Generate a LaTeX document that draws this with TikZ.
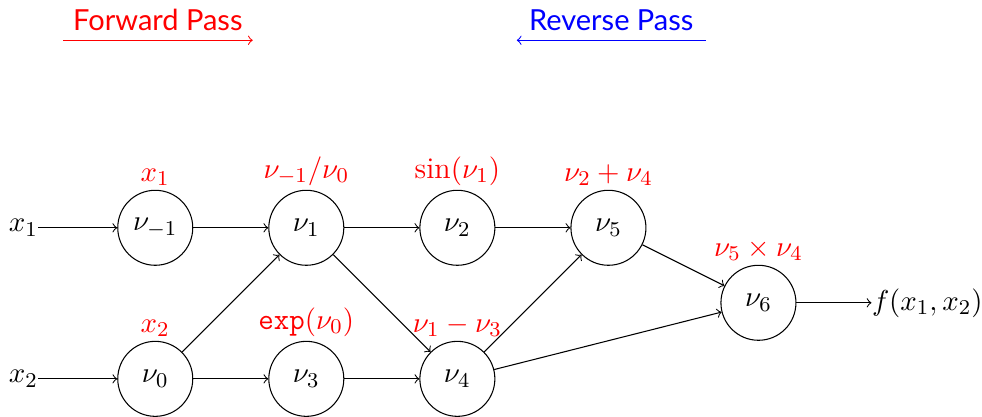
\documentclass[tikz,border=0pt]{standalone}
\usepackage{amsmath,amssymb}
\usepackage{fontspec}
\setsansfont{Lato}
\usepackage{tikz}
\usetikzlibrary{shapes,positioning,calc}
\usetikzlibrary{arrows}

\begin{document}
\begin{tikzpicture}[
font=\fontsize{11.4}{14}\selectfont,
var/.style={circle, draw=black, minimum size = 1cm},
io/.style={inner sep=0pt},
op/.style={red, label distance=-2pt},
pass/.style={font=\sffamily\fontsize{11}{13}\selectfont},
]
\useasboundingbox (0,0) rectangle (13.093,5.547);

% graph nodes
\node[var] (vm1) at (2.07,2.51) [label={[op]above:{$x_1$}}] {$\nu_{-1}$};
\node[var] (v0) [below=1cm of vm1, label={[op]above:{$x_2$}}] {$\nu_0$};
\node[var] (v1) [right=1cm of vm1, label={[op]above:{$\nu_{-1}/\nu_0$}}] {$\nu_1$};
\node[var] (v3) [right=1cm of v0, label={[op]above:{$\texttt{exp}(\nu_0)$}}] {$\nu_3$};
\node[var] (v2) [right=1cm of v1, label={[op]above:{$\sin(\nu_1)$}}] {$\nu_2$};
\node[var] (v4) [right=1cm of v3, label={[op]above:{$\nu_1-\nu_3$}}] {$\nu_4$};
\node[var] (v5) [right=1cm of v2, label={[op]above:{$\nu_2+\nu_4$}}] {$\nu_5$};
\node[var] (v6) at ($(v5)+(2,-1)$) [label={[op]above:{$\nu_5\times\nu_4$}}] {$\nu_6$};

\node[io] (x1) [left=1.05cm of vm1] {$x_1$};
\node[io] (x2) [left=1.05cm of v0] {$x_2$};
\node[io] (f) [right=1cm of v6] {$f(x_1,x_2)$};

% edges
\draw[->] (x1) -- (vm1);
\draw[->] (x2) -- (v0);
\draw[->] (vm1) -- (v1);
\draw[->] (v0) -- (v1);
\draw[->] (v0) -- (v3);
\draw[->] (v1) -- (v2);
\draw[->] (v1) -- (v4);
\draw[->] (v3) -- (v4);
\draw[->] (v2) -- (v5);
\draw[->] (v4) -- (v5);
\draw[->] (v5) -- (v6);
\draw[->] (v4) -- (v6);
\draw[->] (v6) -- (f);

% passes
\coordinate (fa) at (0.84,5.01);
\coordinate (fb) at (3.37,5.01);
\coordinate (ra) at (9.41,5.01);
\coordinate (rb) at (6.89,5.01);
\draw[->,red] (fa) -- node[above,pass] {Forward Pass} (fb);
\draw[->,blue] (ra) -- node[above,pass] {Reverse Pass} (rb);
\end{tikzpicture}
\end{document}
